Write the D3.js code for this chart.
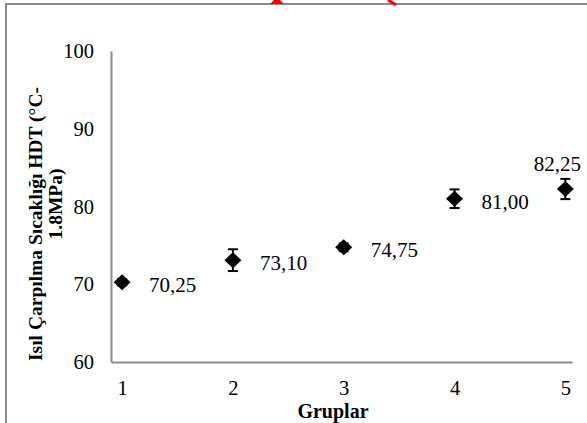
<!DOCTYPE html>
<html><head><meta charset="utf-8">
<script src="https://cdn.jsdelivr.net/npm/d3@7"></script>
<style>body{margin:0;background:#fff}svg{display:block}text{font-family:"Liberation Serif","Times New Roman",serif}</style>
</head><body>
<svg id="c" width="587" height="423"></svg>
<script>
const groups=[1,2,3,4,5];
const hdt=[70.25,73.10,74.75,81.00,82.25];
const errs=[0.4,1.4,0.5,1.2,1.3];
const valueLabels=["70,25","73,10","74,75","81,00","82,25"];
const yTicks=[60,70,80,90,100];
const xTicks=[1,2,3,4,5];
const xTitle="Gruplar";
const yTitle1="Isıl Çarpılma Sıcaklığı HDT (°C-";
const yTitle2="1.8MPa)";

const svg=d3.select("#c");
svg.append("path").attr("d","M6,423V4H587").attr("fill","none").attr("stroke","#8c8c8c").attr("stroke-width",2);
svg.append("path").attr("d","M270,4L274,0H280L284,4Z").attr("fill","#f00");
svg.append("path").attr("d","M388,0L396,5").attr("stroke","#f00").attr("stroke-width",3);

const x=d3.scaleLinear().domain([0.9,5.06]).range([111,572]);
const y=d3.scaleLinear().domain([60,100]).range([362,51]);

const xa=svg.append("g").attr("transform","translate(0,362)")
 .call(d3.axisBottom(x).tickValues(xTicks).tickSize(0).tickPadding(18).tickFormat(d3.format("d")));
const ya=svg.append("g").attr("transform","translate(111,0)")
 .call(d3.axisLeft(y).tickValues(yTicks).tickSize(0).tickPadding(17).tickFormat(d3.format("d")));
[xa,ya].forEach(a=>{a.attr("font-family",null).attr("font-size",null);
 a.select(".domain").attr("stroke","#8c8c8c").attr("stroke-width",2);
 a.selectAll("text").attr("font-size",20.5).attr("fill","#000");});

const pts=groups.map((g,i)=>({g,v:hdt[i],e:errs[i],l:valueLabels[i],i}));
const eb=svg.append("g");
pts.forEach(p=>{
 const cx=x(p.g), y1=y(p.v+p.e), y2=y(p.v-p.e);
 eb.append("line").attr("x1",cx).attr("x2",cx).attr("y1",y1).attr("y2",y2).attr("stroke","#000").attr("stroke-width",2);
 eb.append("line").attr("x1",cx-5).attr("x2",cx+5).attr("y1",y1).attr("y2",y1).attr("stroke","#000").attr("stroke-width",2);
 eb.append("line").attr("x1",cx-5).attr("x2",cx+5).attr("y1",y2).attr("y2",y2).attr("stroke","#000").attr("stroke-width",2);
});
svg.append("g").selectAll("path").data(pts).join("path")
 .attr("d",p=>{const cx=x(p.g),cy=y(p.v);return `M${cx-8.5},${cy}L${cx},${cy-8}L${cx+8.5},${cy}L${cx},${cy+8}Z`;})
 .attr("fill","#000");
svg.append("g").selectAll("text").data(pts).join("text")
 .attr("x",p=>p.i===4?x(p.g)-8:x(p.g)+27)
 .attr("y",p=>p.i===4?y(p.v)-18:y(p.v)+10)
 .attr("text-anchor",p=>p.i===4?"middle":"start")
 .attr("font-size",21).text(p=>p.l);

svg.append("text").attr("x",333).attr("y",418).attr("text-anchor","middle").attr("font-weight","bold").attr("font-size",20).text(xTitle);
svg.append("text").attr("transform","translate(42,224) rotate(-90)").attr("text-anchor","middle").attr("font-weight","bold").attr("font-size",19.5).text(yTitle1);
svg.append("text").attr("transform","translate(62,204) rotate(-90)").attr("text-anchor","middle").attr("font-weight","bold").attr("font-size",19.5).text(yTitle2);
</script>
</body></html>
